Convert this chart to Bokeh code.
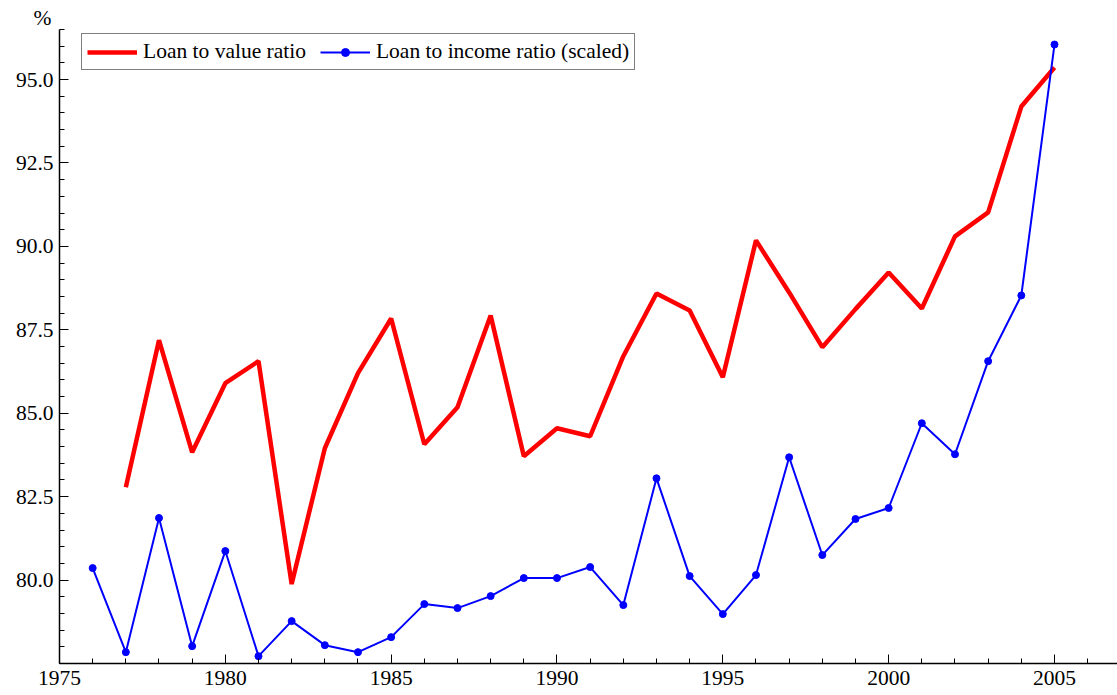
from bokeh.plotting import figure
from bokeh.models import Range1d, FixedTicker, NumeralTickFormatter, Legend, LegendItem
from bokeh.embed import file_html
from bokeh.resources import INLINE

years_ltv = list(range(1977, 2006))
ltv = [82.78, 87.19, 83.83, 85.90, 86.56, 79.88, 83.95, 86.20, 87.84, 84.07,
       85.18, 87.93, 83.71, 84.55, 84.31, 86.71, 88.59, 88.08, 86.08, 90.18,
       88.62, 86.98, 88.12, 89.22, 88.14, 90.30, 91.02, 94.19, 95.36]

years_lti = list(range(1976, 2006))
lti = [80.36, 77.84, 81.86, 78.02, 80.87, 77.72, 78.77, 78.05, 77.84, 78.29,
       79.28, 79.16, 79.52, 80.06, 80.06, 80.39, 79.25, 83.05, 80.12, 78.98,
       80.15, 83.68, 80.75, 81.83, 82.16, 84.70, 83.77, 86.56, 88.53, 96.05]

x_major = [1975, 1980, 1985, 1990, 1995, 2000, 2005]
x_minor = list(range(1975, 2007))
y_major = [80.0, 82.5, 85.0, 87.5, 90.0, 92.5, 95.0]
y_minor = [77.5 + 0.5 * i for i in range(39)]

FONT = "Liberation Serif"
FS = "21.5px"

p = figure(width=1117, height=695, output_backend="svg", toolbar_location=None,
           x_range=Range1d(1975, 2006.9), y_range=Range1d(77.5, 96.5),
           min_border_left=59, min_border_right=0, min_border_top=29, min_border_bottom=32,
           title="%")
p.outline_line_color = None
p.grid.visible = False
p.title.align = "left"
p.title.offset = -26
p.title.standoff = 0
p.title.text_font = FONT
p.title.text_font_size = FS
p.title.text_font_style = "normal"
p.title.text_color = "black"

for ax in (p.xaxis[0], p.yaxis[0]):
    ax.axis_line_color = "black"
    ax.axis_line_width = 1.5
    ax.major_tick_in = 9
    ax.major_tick_out = 0
    ax.minor_tick_in = 5
    ax.minor_tick_out = 0
    ax.major_tick_line_color = "black"
    ax.minor_tick_line_color = "black"
    ax.major_label_text_font = FONT
    ax.major_label_text_font_size = FS
    ax.major_label_text_color = "black"

p.xaxis.ticker = FixedTicker(ticks=x_major, minor_ticks=x_minor)
p.yaxis.ticker = FixedTicker(ticks=y_major, minor_ticks=y_minor)
p.yaxis.formatter = NumeralTickFormatter(format="0.0")
p.xaxis.major_label_standoff = 7
p.yaxis.major_label_standoff = 6

r1 = p.line(years_ltv, ltv, line_color="red", line_width=4.5)
r2 = p.line(years_lti, lti, line_color="blue", line_width=2)
r3 = p.scatter(years_lti, lti, size=7, color="blue")

legend = Legend(items=[LegendItem(label="Loan to value ratio", renderers=[r1]),
                       LegendItem(label="Loan to income ratio (scaled)", renderers=[r2, r3])],
                location=(22, 593), orientation="horizontal")
legend.label_text_font = FONT
legend.label_text_font_size = FS
legend.label_text_color = "black"
legend.border_line_color = "black"
legend.border_line_width = 1
legend.background_fill_alpha = 1
legend.glyph_width = 50
legend.spacing = 14
legend.padding = 5
legend.margin = 0
legend.label_standoff = 6
p.add_layout(legend)

open("out.html", "w").write(file_html(p, INLINE))
